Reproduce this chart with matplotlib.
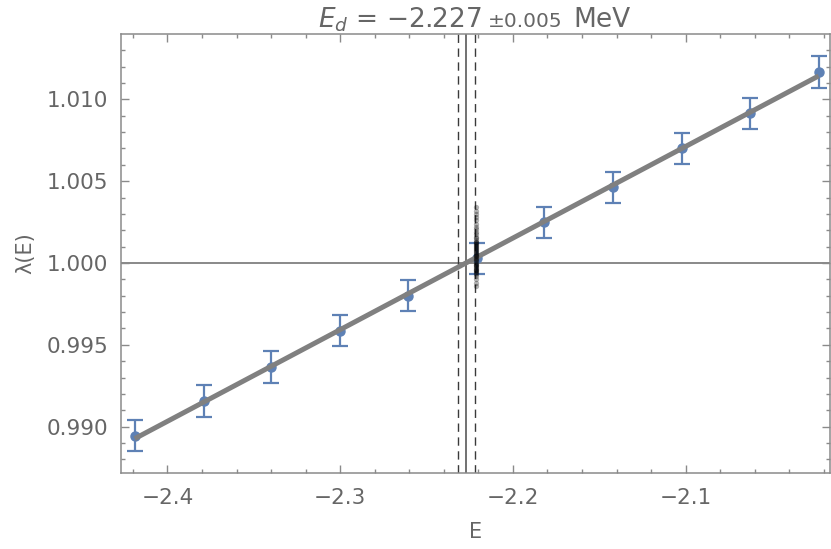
import numpy as np
import matplotlib
matplotlib.use("Agg")
import matplotlib.pyplot as plt
from matplotlib.ticker import MultipleLocator, FuncFormatter

plt.rcParams['font.family'] = ['DejaVu Sans']
plt.rcParams['mathtext.fontset'] = 'dejavusans'

# Data
energies = [-2.419, -2.379, -2.340, -2.300, -2.261, -2.221,
            -2.182, -2.142, -2.102, -2.063, -2.023]
lambdas = [0.98945, 0.99157, 0.99365, 0.99585, 0.99799, 1.00030,
           1.00248, 1.00464, 1.00701, 1.00916, 1.01167]
errors = [0.00095] * 11

E_d = -2.227
E_d_err = 0.005

sample_E = -2.2215
sample_lambdas = [1.0034, 1.0032, 1.0030, 1.0028, 1.0026, 1.0024, 1.0022, 1.0021,
                  1.0019, 1.0018, 1.0016, 1.0015, 1.0014, 1.0013, 1.0012, 1.0011,
                  1.0010, 1.0009, 1.0008, 1.0007, 1.0006, 1.0005, 1.0004, 1.0003,
                  1.0002, 1.0001, 1.0000, 0.99995, 0.9999, 0.99985, 0.9998,
                  0.99975, 0.9997, 0.99965, 0.9996, 0.9995, 0.9994, 0.9993,
                  0.9992, 0.9990, 0.9988, 0.9986, 1.00115, 1.00085, 1.00055,
                  1.00025, 1.00045, 1.00075, 1.00105, 1.0013, 0.99955, 0.99945]

xlim = (-2.4269, -2.0164)
ylim = (0.98719, 1.01399)

text_col = '#666666'
frame_col = '#8a8a8a'

fig = plt.figure(figsize=(8.31, 5.49), dpi=100)
ax = fig.add_axes([121/831, 1 - 472.7/549, (830 - 121)/831, (472.7 - 34)/549])

# reference lines
ax.axhline(1.0, color='#6a6a6a', lw=1.1, zorder=1)
ax.axvline(E_d, color='#4a4a4a', lw=1.1, zorder=1)
ax.axvline(E_d - E_d_err, color='#3a3a3a', lw=1.0, ls=(0, (6, 4)), zorder=1)
ax.axvline(E_d + E_d_err, color='#3a3a3a', lw=1.0, ls=(0, (6, 4)), zorder=1)

# fit line
coef = np.polyfit(energies, lambdas, 1)
xs = np.array([energies[0], energies[-1]])
ax.plot(xs, np.polyval(coef, xs), color='#808080', lw=3.6, zorder=3,
        solid_capstyle='butt')

# data with error bars
ax.errorbar(energies, lambdas, yerr=errors, fmt='o', color='#5E81B5',
            ms=6.5, elinewidth=1.6, capsize=5.8, capthick=1.6, zorder=2)

# samples
ax.plot([sample_E] * len(sample_lambdas), sample_lambdas, 'o', color='black',
        ms=3.8, alpha=0.3, mec='none', zorder=4)


def fmt_factory(digits):
    def f(v, pos):
        return ('%.*f' % (digits, v)).replace('-', '\u2212')
    return FuncFormatter(f)


ax.set_xlim(*xlim)
ax.set_ylim(*ylim)

ax.xaxis.set_major_locator(MultipleLocator(0.1))
ax.xaxis.set_minor_locator(MultipleLocator(0.02))
ax.yaxis.set_major_locator(MultipleLocator(0.005))
ax.yaxis.set_minor_locator(MultipleLocator(0.001))
ax.yaxis.set_major_formatter(fmt_factory(3))
ax.xaxis.set_major_formatter(fmt_factory(1))

ax.tick_params(which='both', direction='in', top=True, right=True,
               color=frame_col, labelcolor=text_col, labelsize=15.5, width=1)
ax.tick_params(which='major', length=5.8, pad=9)
ax.tick_params(which='minor', length=3)
ax.tick_params(axis='x', which='major', pad=11)
for sp in ax.spines.values():
    sp.set_color(frame_col)
    sp.set_linewidth(1.1)

ax.set_xlabel('E', color=text_col, fontsize=15, labelpad=10)
ax.set_ylabel('λ(E)', color=text_col, fontsize=15, labelpad=8)

# title pieces
yb = 1 - 27/549
fig.text(318/831, yb, '$E_d$ = \u22122.227', fontsize=19, color=text_col, va='baseline', ha='left')
fig.text(488/831, yb, '\u00b10.005', fontsize=14.5, color=text_col, va='baseline', ha='left')
fig.text(573/831, yb, 'MeV', fontsize=19, color=text_col, va='baseline', ha='left')

fig.savefig('out.png', dpi=100)
